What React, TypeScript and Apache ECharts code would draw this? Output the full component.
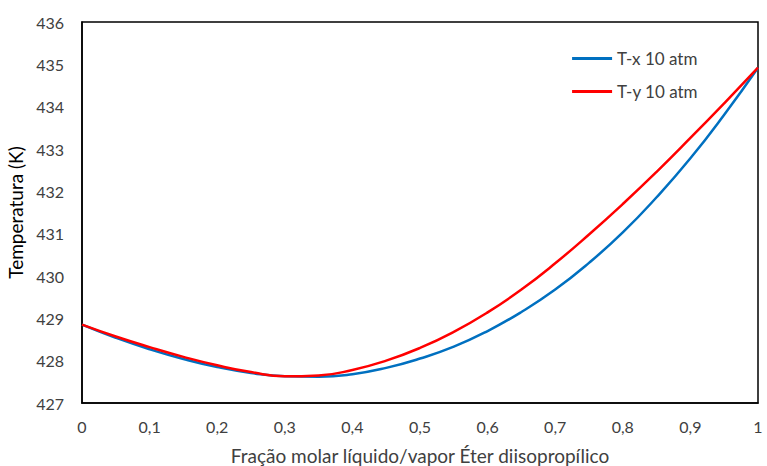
import React, { useEffect, useRef } from "react";
import * as echarts from "echarts";

// Mole fraction of diisopropyl ether (liquid x / vapour y)
const fractions = [
  0, 0.05, 0.1, 0.15, 0.2, 0.25, 0.3, 0.35, 0.4, 0.45, 0.5,
  0.55, 0.6, 0.65, 0.7, 0.75, 0.8, 0.85, 0.9, 0.95, 1,
];
// Bubble-point curve T-x at 10 atm (K)
const tx = [
  428.85, 428.54, 428.27, 428.04, 427.85, 427.71, 427.63, 427.62, 427.68, 427.83, 428.05,
  428.33, 428.7, 429.15, 429.68, 430.31, 431.03, 431.86, 432.78, 433.81, 434.92,
];
// Dew-point curve T-y at 10 atm (K)
const ty = [
  428.85, 428.57, 428.32, 428.09, 427.89, 427.73, 427.63, 427.65, 427.78, 428.0, 428.3,
  428.68, 429.14, 429.68, 430.3, 430.98, 431.7, 432.46, 433.26, 434.08, 434.92,
];
const xTickLabels = ["0", "0,1", "0,2", "0,3", "0,4", "0,5", "0,6", "0,7", "0,8", "0,9", "1"];
const seriesNames = ["T-x 10 atm", "T-y 10 atm"];

const FONT = "Lato, 'Open Sans', sans-serif";
const TEXT = "#404040";

export default function App() {
  const ref = useRef<HTMLDivElement>(null);

  useEffect(() => {
    if (!ref.current) return;
    const chart = echarts.init(ref.current, undefined, { renderer: "svg" });
    chart.setOption({
      animation: false,
      backgroundColor: "#ffffff",
      textStyle: { fontFamily: FONT },
      grid: {
        left: 82,
        top: 22,
        right: 9,
        bottom: 63,
        outerBoundsMode: "none",
        containLabel: false,
        show: true,
        borderColor: "#000000",
        borderWidth: 1.5,
      },
      legend: {
        orient: "vertical",
        right: 64,
        top: 45,
        itemWidth: 40,
        itemHeight: 3,
        itemGap: 16,
        icon: "rect",
        textStyle: { fontFamily: FONT, fontSize: 17, color: TEXT },
        data: seriesNames,
      },
      xAxis: {
        type: "value",
        min: 0,
        max: 1,
        interval: 0.1,
        name: "Fração molar líquido/vapor Éter diisopropílico",
        nameLocation: "middle",
        nameGap: 43,
        nameTextStyle: { fontFamily: FONT, fontSize: 19, color: TEXT },
        axisLine: { show: true, lineStyle: { color: "#000000", width: 1.5 } },
        axisTick: { show: false },
        splitLine: { show: false },
        axisLabel: {
          fontFamily: FONT,
          fontSize: 16,
          color: TEXT,
          margin: 15,
          formatter: (v: number) => xTickLabels[Math.round(v * 10)] ?? "",
        },
      },
      yAxis: {
        type: "value",
        min: 427,
        max: 436,
        interval: 1,
        name: "Temperatura (K)",
        nameLocation: "middle",
        nameGap: 55,
        nameRotate: 90,
        nameTextStyle: { fontFamily: FONT, fontSize: 19, color: "#000000" },
        axisLine: { show: true, lineStyle: { color: "#000000", width: 1.5 } },
        axisTick: { show: false },
        splitLine: { show: false },
        axisLabel: { fontFamily: FONT, fontSize: 16, color: TEXT, margin: 18 },
      },
      series: [
        {
          name: seriesNames[0],
          type: "line",
          smooth: true,
          showSymbol: false,
          data: fractions.map((f, i) => [f, tx[i]]),
          lineStyle: { color: "#0070C0", width: 2.5 },
          itemStyle: { color: "#0070C0" },
        },
        {
          name: seriesNames[1],
          type: "line",
          smooth: true,
          showSymbol: false,
          data: fractions.map((f, i) => [f, ty[i]]),
          lineStyle: { color: "#FF0000", width: 2.5 },
          itemStyle: { color: "#FF0000" },
        },
      ],
    });
    return () => chart.dispose();
  }, []);

  return <div ref={ref} style={{ width: 767, height: 466, position: "absolute", left: 0, top: 0 }} />;
}
